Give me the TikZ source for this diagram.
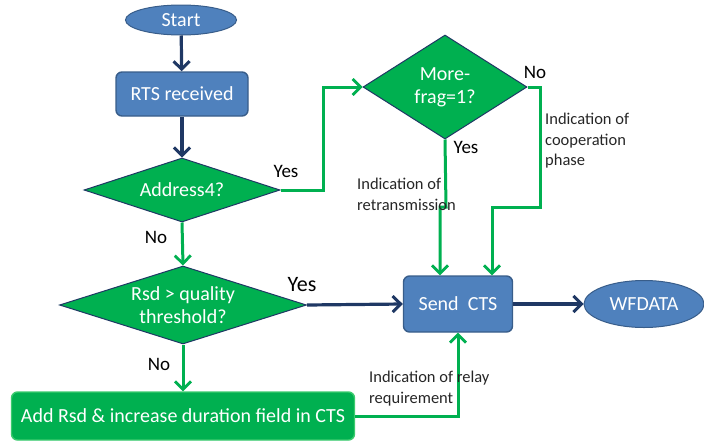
\documentclass[tikz,border=0pt]{standalone}
\usepackage{fontspec}
\setmainfont{Carlito}
\usetikzlibrary{shapes.geometric,arrows.meta}
\definecolor{boxblue}{HTML}{4F81BD}
\definecolor{boxedge}{HTML}{385D8A}
\definecolor{navy}{HTML}{1F3864}
\definecolor{fgreen}{HTML}{00B050}
\definecolor{gedge}{HTML}{3BCB6E}
\tikzset{
  bigtxt/.style={font=\fontsize{20}{23}\selectfont, text=white, align=center},
  startend/.style={ellipse, draw=boxedge, line width=1pt, fill=boxblue, bigtxt, inner sep=0pt},
  process/.style={rectangle, rounded corners=6pt, draw=boxedge, line width=1.4pt, fill=boxblue, bigtxt, inner sep=0pt},
  decision/.style={diamond, draw=navy, line width=1pt, fill=fgreen, bigtxt, inner sep=0pt},
  action/.style={rectangle, rounded corners=6pt, draw=gedge, line width=1.4pt, fill=fgreen, bigtxt, inner sep=0pt},
  navyarrow/.style={draw=navy, line width=3.2pt, -{Straight Barb[length=8pt,width=16pt,line width=3pt]}},
  greenarrow/.style={draw=fgreen, line width=3pt, -{Straight Barb[length=8pt,width=16pt,line width=2.8pt]}},
  answer/.style={font=\fontsize{19}{21}\selectfont, text=black, inner sep=0pt},
  note/.style={font=\fontsize{16.5}{20.5}\selectfont, text=black!85, align=left, inner sep=0pt, anchor=north west}
}
\begin{document}
\begin{tikzpicture}[x=1pt, y=-1pt]
\useasboundingbox (0,0) rectangle (704,442);

% nodes
\node[startend, minimum width=111pt, minimum height=30pt] (start) at (181,20) {Start};
\node[process, minimum width=132pt, minimum height=44pt] (rts) at (182,94) {RTS received};
\node[decision, minimum width=196pt, minimum height=64pt, aspect=3.06] (a4) at (182,190) {Address4?};
\node[decision, minimum width=164pt, minimum height=104pt, aspect=1.58] (mf) at (445,87) {More-\\frag=1?};
\node[decision, minimum width=247pt, minimum height=78pt, aspect=3.17] (rsd) at (183,305) {Rsd \textgreater{} quality\\threshold?};
\node[process, minimum width=109pt, minimum height=56pt] (cts) at (458,304) {Send~~CTS};
\node[startend, minimum width=120pt, minimum height=47pt] (wf) at (644,304) {WFDATA};
\node[action, minimum width=343pt, minimum height=48pt] (add) at (183,416) {Add Rsd \& increase duration field in CTS};

% bend points
\coordinate (k1) at (323,190);
\coordinate (j1) at (446,207);
\coordinate (n1) at (540,207);

% connectors
\draw[navyarrow] (start) -- (rts);
\draw[navyarrow] (rts) -- (a4);
\draw[greenarrow] (a4.east) -- (k1) |- (mf.west);
\draw[greenarrow] (a4.south) -- (rsd.north);
\draw[navyarrow] (rsd.east) -- (cts.west);
\draw[greenarrow] (rsd.south) -- (add.north);
\draw[greenarrow] (mf.south) -- (j1) -| ([xshift=-18pt]cts.north);
\draw[greenarrow] (mf.east) -| (n1) -| ([xshift=34pt]cts.north);
\draw[greenarrow] (add.east) -| (cts.south);
\draw[navyarrow] (cts.east) -- (wf.west);

% answers
\node[answer] (y1) at (286,171) {Yes};
\node[answer] (no1) at (156,237) {No};
\node[answer] (y2) at (466,147) {Yes};
\node[answer] (no2) at (535,72) {No};
\node[answer, font=\fontsize{22}{25}\selectfont] (y3) at (302,285) {Yes};
\node[answer] (no3) at (159,364) {No};

% notes on the connectors
\node[note] (t1) at (357,178) {Indication of\\retransmission};
\node[note] (t2) at (545,113) {Indication of\\cooperation\\phase};
\node[note] (t3) at (369,371) {Indication of relay\\requirement};
\end{tikzpicture}
\end{document}
